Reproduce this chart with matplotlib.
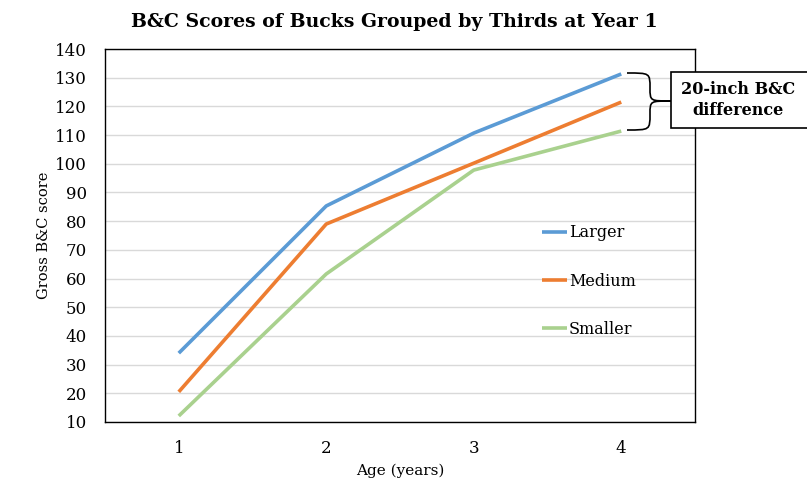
import numpy as np
import matplotlib.pyplot as plt
from matplotlib.path import Path
from matplotlib.patches import PathPatch, Rectangle

ages = [1, 2, 3, 4]
larger = [34, 85.3, 110.7, 131.3]
medium = [20.5, 79, 100.2, 121.5]
smaller = [12.1, 61.6, 97.8, 111.4]
series_names = ["Larger", "Medium", "Smaller"]
series_colors = ["#5B9BD5", "#ED7D31", "#A9D18E"]
y_ticks = list(range(10, 141, 10))

W, H = 807, 497
plt.rcParams['font.family'] = ['DejaVu Serif']

fig = plt.figure(figsize=(W / 100, H / 100), dpi=100)
ax = fig.add_axes([105 / W, 1 - 422 / H, 590 / W, 373 / H])

for vals, name, col in zip([larger, medium, smaller], series_names, series_colors):
    ax.plot(ages, vals, color=col, linewidth=2.6, label=name, solid_capstyle='butt')

ax.set_xlim(0.5, 4.5)
ax.set_ylim(10, 140)
ax.set_xticks(ages)
ax.set_yticks(y_ticks)
ax.tick_params(length=0, labelsize=12)
ax.tick_params(axis='y', pad=13)
ax.tick_params(axis='x', pad=13)
ax.grid(axis='y', color='#D9D9D9', linewidth=1)
ax.set_axisbelow(True)
for s in ax.spines.values():
    s.set_color('black')
    s.set_linewidth(1)

ax.set_xlabel("Age (years)", fontsize=11, labelpad=5)
ax.set_ylabel("Gross B&C score", fontsize=10.5, labelpad=3)
fig.text(394 / W, 1 - 22 / H, "B&C Scores of Bucks Grouped by Thirds at Year 1",
         ha='center', va='center', fontsize=13.6, fontweight='bold')

ax.legend(loc='upper left', bbox_to_anchor=((536 - 105) / 590, (422 - 218) / 373),
          frameon=False, fontsize=11.5, handlelength=1.55, handletextpad=0.1,
          labelspacing=1.95, borderaxespad=0)

# annotation box, runs past the right edge
def fx(x):
    return x / W

def fy(y):
    return 1 - y / H

rect = Rectangle((fx(671), fy(128)), fx(160), 56 / H, transform=fig.transFigure,
                 facecolor='white', edgecolor='black', linewidth=1.2, zorder=5,
                 clip_on=False)
fig.patches.append(rect)
fig.text(fx(738), fy(100), "20-inch B&C\ndifference", ha='center', va='center',
         fontsize=11.5, fontweight='bold', zorder=6, linespacing=1.3)

# curly brace
pts = [(627, 73), (650, 73), (650, 73), (650, 88),
       (650, 101), (650, 101), (671, 101),
       (650, 101), (650, 101), (650, 114),
       (650, 130), (650, 130), (627, 130)]
codes = [Path.MOVETO, Path.CURVE4, Path.CURVE4, Path.CURVE4,
         Path.CURVE4, Path.CURVE4, Path.CURVE4,
         Path.CURVE4, Path.CURVE4, Path.CURVE4,
         Path.CURVE4, Path.CURVE4, Path.CURVE4]
brace = Path([(fx(x), fy(y)) for x, y in pts], codes)
fig.patches.append(PathPatch(brace, transform=fig.transFigure, facecolor='none',
                             edgecolor='black', linewidth=1.2, zorder=4))

fig.savefig("out.png", dpi=100)
